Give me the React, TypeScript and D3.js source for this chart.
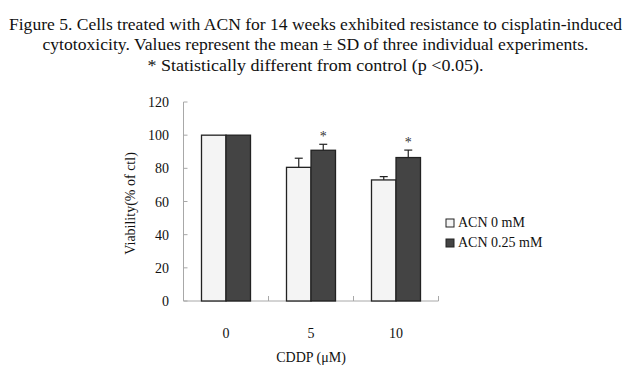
import React from "react";
import * as d3 from "d3";

const categories = ["0", "5", "10"];
const seriesNames = ["ACN 0 mM", "ACN 0.25 mM"];
const acn0 = [100, 80.6, 73];
const acn0Err = [0, 5.5, 2];
const acn025 = [100, 90.9, 86.5];
const acn025Err = [0, 3.6, 4.5];
const significant = [false, true, true];
const yTicks = [0, 20, 40, 60, 80, 100, 120];
const titleLines = [
  "Figure 5. Cells treated with ACN for 14 weeks exhibited resistance to cisplatin-induced",
  "cytotoxicity. Values represent the mean \u00b1 SD of three individual experiments.",
  "* Statistically different from control (p <0.05).",
];
const titleWidths = [613, 546, 336];

export default function App() {
  const W = 632, H = 376;
  const left = 183.5, right = 438.5, top = 102, bottom = 301;
  const x = d3.scaleBand<string>().domain(categories).range([left, right]);
  const inner = d3.scaleBand<string>().domain(["a", "b"]).range([0, 49]);
  const y = d3.scaleLinear().domain([0, 120]).range([bottom, top]);
  const colors = ["#f4f4f4", "#444444"];
  const vals = [acn0, acn025];
  const errs = [acn0Err, acn025Err];
  const font = "'Liberation Serif', 'Times New Roman', serif";
  const axisColor = "#a8a8a8";
  return (
    <svg width={W} height={H} style={{ position: "absolute", left: 0, top: 0, background: "#fff" }} fontFamily={font}>
      <rect width={W} height={H} fill="#fff" />
      {titleLines.map((t, i) => (
        <text key={i} x={315.5} y={30 + i * 20.3} textAnchor="middle" fontSize={17.5} fill="#111"
          textLength={titleWidths[i]} lengthAdjust="spacingAndGlyphs">{t}</text>
      ))}
      {/* axes */}
      <line x1={left} x2={left} y1={top} y2={bottom} stroke={axisColor} strokeWidth={1} />
      <line x1={left} x2={right} y1={bottom} y2={bottom} stroke={axisColor} strokeWidth={1} />
      {yTicks.map((t) => (
        <g key={t}>
          <line x1={left} x2={left + 4} y1={y(t)} y2={y(t)} stroke={axisColor} />
          <text x={169} y={y(t) + 5} textAnchor="end" fontSize={14} fill="#111">{t}</text>
        </g>
      ))}
      {categories.map((c) => (
        <g key={c}>
          <line x1={x(c)! + x.bandwidth()} x2={x(c)! + x.bandwidth()} y1={bottom} y2={bottom - 5} stroke={axisColor} />
          <text x={x(c)! + x.bandwidth() / 2} y={338} textAnchor="middle" fontSize={14} fill="#111">{c}</text>
        </g>
      ))}
      {/* bars */}
      {categories.map((c, i) => {
        const gx = x(c)! + (x.bandwidth() - 49) / 2;
        return (
          <g key={c}>
            {["a", "b"].map((k, s) => {
              const bx = gx + inner(k)!;
              const bw = inner.bandwidth();
              const v = vals[s][i];
              const e = errs[s][i];
              const cx = bx + bw / 2;
              return (
                <g key={k}>
                  {e > 0 && (
                    <g stroke="#222" strokeWidth={1.2}>
                      <line x1={cx} x2={cx} y1={y(v)} y2={y(v + e)} />
                      <line x1={cx - 4} x2={cx + 4} y1={y(v + e)} y2={y(v + e)} />
                    </g>
                  )}
                  <rect x={bx} y={y(v)} width={bw} height={bottom - y(v)} fill={colors[s]} stroke="#222" strokeWidth={1.3} />
                  {s === 1 && significant[i] && (
                    <text x={cx} y={y(v + e) - 3} textAnchor="middle" fontSize={14} fill="#333">*</text>
                  )}
                </g>
              );
            })}
          </g>
        );
      })}
      {/* axis titles */}
      <text transform={`translate(135, ${(top + bottom) / 2 + 2}) rotate(-90)`} textAnchor="middle" fontSize={14} fill="#111">Viability(% of ctl)</text>
      <text x={311} y={362} textAnchor="middle" fontSize={14} fill="#111">CDDP (μM)</text>
      {/* legend */}
      {seriesNames.map((n, i) => (
        <g key={n}>
          <rect x={446} y={219 + i * 20} width={8} height={8} fill={colors[i]} stroke="#222" strokeWidth={1} />
          <text x={458} y={227 + i * 20} fontSize={14} fill="#111">{n}</text>
        </g>
      ))}
    </svg>
  );
}
